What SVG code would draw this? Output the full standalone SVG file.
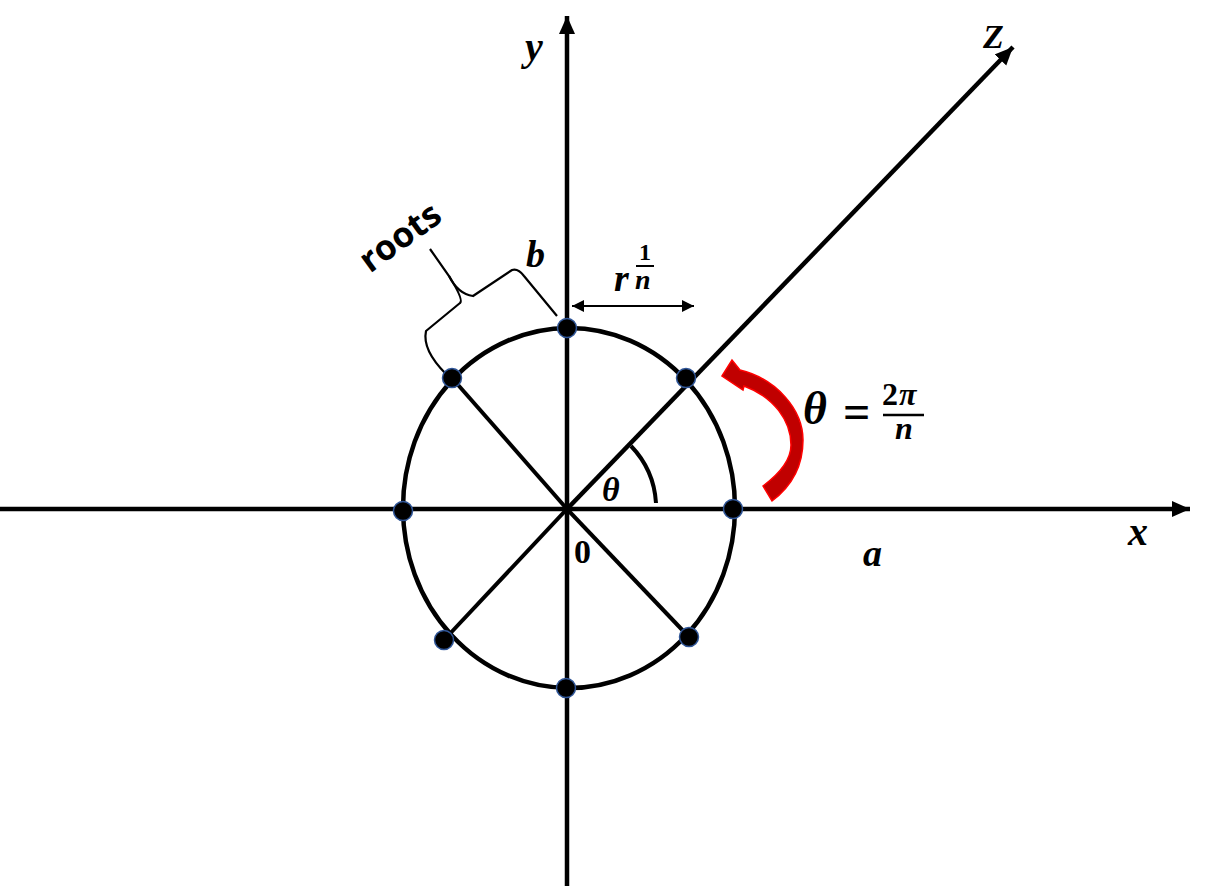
<svg xmlns="http://www.w3.org/2000/svg" width="1206" height="886" viewBox="0 0 1206 886">
<style>
.ax{stroke:#000;stroke-width:4.5;fill:none}
.ln{stroke:#000;stroke-width:4;fill:none}
.th{stroke:#000;stroke-width:2.2;fill:none}
.dot{fill:#000;stroke:#2F5597;stroke-width:1.5}
.m{font-family:"Liberation Serif",serif;font-weight:bold;font-style:italic;fill:#000}
.u{font-family:"Liberation Serif",serif;font-weight:bold;fill:#000}
.s{font-family:"Open Sans","Liberation Sans",sans-serif;font-weight:bold;fill:#000}
</style>
<defs>
<marker id="big" markerUnits="userSpaceOnUse" markerWidth="24" markerHeight="20" refX="18" refY="8" orient="auto">
<path d="M0,0 L18,8 L0,16 Z" fill="#000"/>
</marker>
<marker id="sm" markerUnits="userSpaceOnUse" markerWidth="16" markerHeight="14" refX="12" refY="6" orient="auto-start-reverse">
<path d="M0,0 L12,6 L0,12 Z" fill="#000"/>
</marker>
</defs>
<g id="connectors">
<line class="ax" x1="567" y1="886" x2="567" y2="16" marker-end="url(#big)"/>
<line class="ax" x1="0" y1="509" x2="1190" y2="509" marker-end="url(#big)"/>
<line class="ax" x1="567" y1="509" x2="1013" y2="47" marker-end="url(#big)"/>
<line class="ln" x1="567" y1="509" x2="452" y2="378"/>
<line class="ln" x1="567" y1="509" x2="444" y2="640"/>
<line class="ln" x1="567" y1="509" x2="689" y2="637"/>
<ellipse class="ax" cx="569" cy="508" rx="166" ry="180"/>
<path class="ln" d="M631,446 A90,90 0 0 1 656,503"/>
<line class="th" x1="572" y1="306" x2="694" y2="306" marker-start="url(#sm)" marker-end="url(#sm)"/>
<path class="th" d="M430,249 L449,276 Q458,294 473,296 L512,270 Q518,268 524,276 L557,316"/>
<path class="th" d="M449,276 Q464,300 460,303 L426,331 Q422,350 446,374"/>
<path d="M722,376 L732,360 L740,370 C777,379 803,410 803,440 C803,466 792,486 772,501 L763,486 C779,474 791,460 791,445 C791,421 774,397 744,386 L743,390 Z" fill="#C00000" stroke="#FF0000" stroke-width="1.5"/>
</g>
<g id="roots-nodes">
<circle class="dot" cx="567" cy="328" r="9.5"/>
<circle class="dot" cx="686" cy="378" r="9.5"/>
<circle class="dot" cx="733" cy="509" r="9.5"/>
<circle class="dot" cx="689" cy="637" r="9.5"/>
<circle class="dot" cx="566" cy="688" r="9.5"/>
<circle class="dot" cx="444" cy="640" r="9.5"/>
<circle class="dot" cx="403" cy="511" r="9.5"/>
<circle class="dot" cx="452" cy="378" r="9.5"/>
</g>
<g id="labels">
<text class="m" x="525" y="60" font-size="40">y</text>
<text class="m" x="983" y="48" font-size="34">Z</text>
<text class="m" x="1128" y="545" font-size="40">x</text>
<text class="m" x="526" y="267" font-size="38">b</text>
<text class="m" x="863" y="566" font-size="38">a</text>
<text class="u" x="574" y="563" font-size="34">0</text>
<text class="m" x="602" y="501" font-size="34">θ</text>
<text class="m" x="614" y="291" font-size="38">r</text>
<text class="u" x="639" y="260" font-size="24">1</text>
<line x1="636" y1="266" x2="654" y2="266" stroke="#000" stroke-width="2"/>
<text class="m" x="635" y="289" font-size="28">n</text>
<text class="m" x="803" y="424" font-size="46">θ</text>
<text class="u" x="843" y="428" font-size="48">=</text>
<text class="u" x="882" y="405" font-size="32">2</text>
<text class="m" x="899" y="405" font-size="32">π</text>
<line x1="883" y1="415" x2="924" y2="415" stroke="#000" stroke-width="2.5"/>
<text class="m" x="904" y="439" font-size="32" text-anchor="middle">n</text>
<text class="s" x="400" y="249" font-size="35" text-anchor="middle" transform="rotate(-36 400 237)">roots</text>
</g>
</svg>
